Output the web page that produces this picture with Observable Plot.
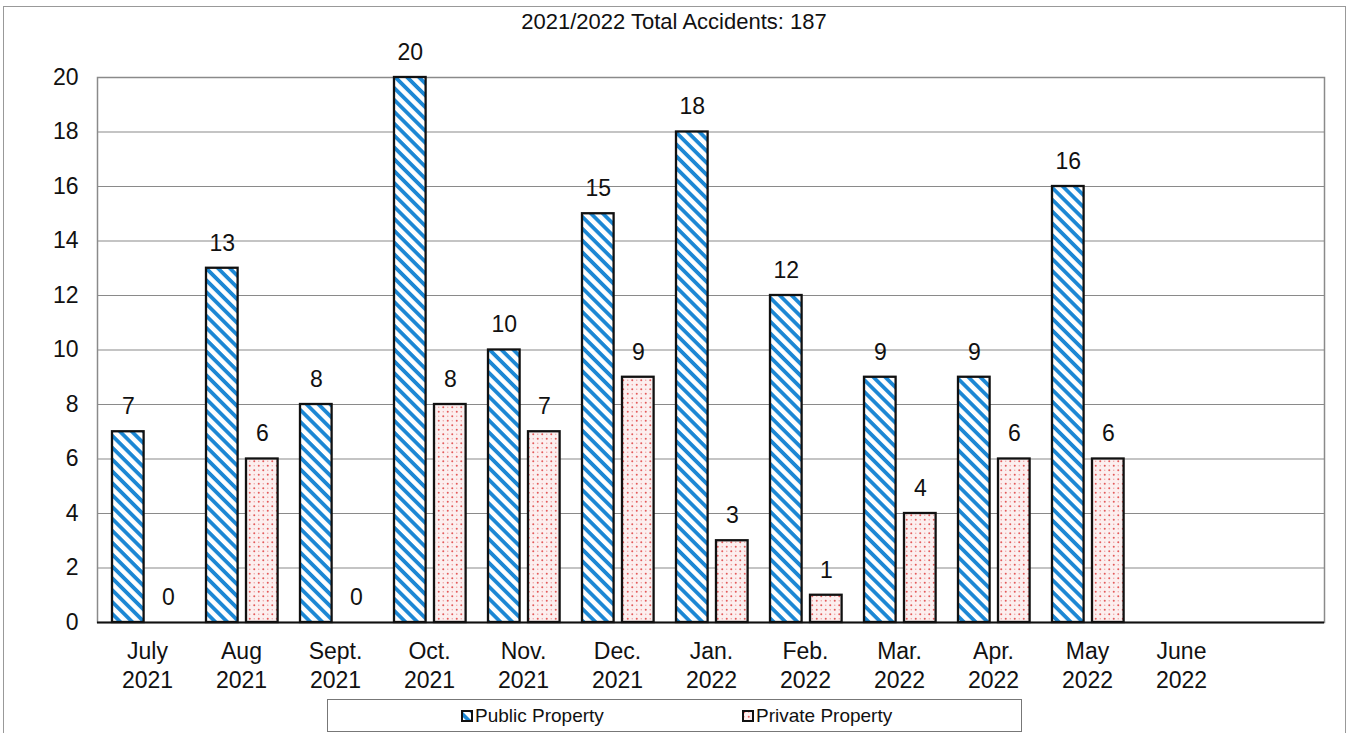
<!DOCTYPE html>
<html><head><meta charset="utf-8">
<script src="https://cdn.jsdelivr.net/npm/d3@7"></script>
<script src="https://cdn.jsdelivr.net/npm/@observablehq/plot@0.6"></script>
<style>
body{margin:0;background:#fff;font-family:"Liberation Sans",Arial,sans-serif;color:#111;}
#frame{position:absolute;left:3px;top:6px;width:1343px;height:740px;border:1.5px solid #999;box-sizing:border-box;}
#title{position:absolute;left:0;width:1348px;top:9px;text-align:center;font-size:22px;}
#chart{position:absolute;left:0;top:0;}
#legend{position:absolute;left:327px;top:699px;width:695px;height:33px;border:1px solid #777;box-sizing:border-box;font-size:19px;}
.item{position:absolute;top:5px;display:flex;align-items:center;}
.item svg{margin-right:2px;}
#defs{position:absolute;width:0;height:0;}
</style>
</head><body>
<svg id="defs" width="0" height="0">
  <defs>
    <pattern id="pubStripes" patternUnits="userSpaceOnUse" width="8.4" height="8.4" patternTransform="rotate(45)">
      <rect width="8.4" height="8.4" fill="#ffffff"/>
      <rect x="0" y="0" width="8.4" height="3.8" fill="#1c87d4"/>
    </pattern>
    <pattern id="privDots" patternUnits="userSpaceOnUse" width="9" height="9">
      <rect width="9" height="9" fill="#fcefef"/>
      <circle cx="2.25" cy="2.25" r="1" fill="#e45a5a"/>
      <circle cx="6.75" cy="6.75" r="1" fill="#e45a5a"/>
      <circle cx="6.75" cy="2.25" r="0.65" fill="#ee9a9a"/>
      <circle cx="2.25" cy="6.75" r="0.65" fill="#ee9a9a"/>
    </pattern>
  </defs>
</svg>
<div id="frame"></div>
<div id="title">2021/2022 Total Accidents: 187</div>
<div id="chart"></div>
<div id="legend">
  <div class="item" style="left:133px"><svg width="12" height="12"><rect x="1" y="1" width="10" height="10" fill="url(#pubStripes)" stroke="#111" stroke-width="2"/></svg><span>Public Property</span></div>
  <div class="item" style="left:414px"><svg width="12" height="12"><rect x="1" y="1" width="10" height="10" fill="url(#privDots)" stroke="#111" stroke-width="2"/></svg><span>Private Property</span></div>
</div>
<script>
const months = ["July","Aug","Sept.","Oct.","Nov.","Dec.","Jan.","Feb.","Mar.","Apr.","May","June"];
const years = ["2021","2021","2021","2021","2021","2021","2022","2022","2022","2022","2022","2022"];
const publicVals = [7,13,8,20,10,15,18,12,9,9,16,null];
const privateVals = [0,6,0,8,7,9,3,1,4,6,6,null];
const yTicks = [0,2,4,6,8,10,12,14,16,18,20];

const keys = months.map((m,i)=>m+" "+years[i]);
const domain = [...keys, "(blank)"];
const pub = keys.map((k,i)=>({key:k, value:publicVals[i]})).filter(d=>d.value!=null);
const priv = keys.map((k,i)=>({key:k, value:privateVals[i]})).filter(d=>d.value!=null);
const labels = keys.map((k,i)=>({key:k, month:months[i], year:years[i]}));

const W = 1348, H = 695;
const mL = 97, mR = 24, mT = 77, mB = H - 622;
const step = (W - mL - mR) / domain.length;
const barW = 32;
const pubL = 12, privL = 52;
const FS = 23;

const chart = Plot.plot({
  width: W, height: H,
  marginLeft: mL, marginRight: mR, marginTop: mT, marginBottom: mB,
  style: {fontFamily: '"Liberation Sans", Arial, sans-serif', fontSize: FS + "px", color: "#111", background: "transparent"},
  x: {domain, padding: 0, axis: null},
  y: {domain: [0, 20], ticks: yTicks, tickSize: 0, tickPadding: 19, label: null},
  marks: [
    Plot.ruleY(yTicks, {stroke: "#8a8a8a", strokeWidth: 1.2}),
    Plot.frame({stroke: "#8a8a8a", strokeWidth: 1.5}),
    Plot.barY(pub, {x: "key", y: "value", fill: "url(#pubStripes)", stroke: "#111", strokeWidth: 2.3,
      insetLeft: pubL, insetRight: step - pubL - barW}),
    Plot.barY(priv, {x: "key", y: "value", fill: "url(#privDots)", stroke: "#111", strokeWidth: 2.3,
      insetLeft: privL, insetRight: step - privL - barW}),
    Plot.ruleY([0], {stroke: "#111", strokeWidth: 2}),
    Plot.text(pub, {x: "key", y: "value", text: d => String(d.value), dx: pubL + barW/2 - step/2, dy: -25, fontSize: FS, fill: "#111"}),
    Plot.text(priv, {x: "key", y: "value", text: d => String(d.value), dx: privL + barW/2 - step/2, dy: -25, fontSize: FS, fill: "#111"}),
    Plot.text(labels, {x: "key", y: () => 0, text: "month", dy: 29, fontSize: FS, fill: "#111"}),
    Plot.text(labels, {x: "key", y: () => 0, text: "year", dy: 58, fontSize: FS, fill: "#111"})
  ]
});
document.getElementById("chart").appendChild(chart);
</script>
</body></html>
